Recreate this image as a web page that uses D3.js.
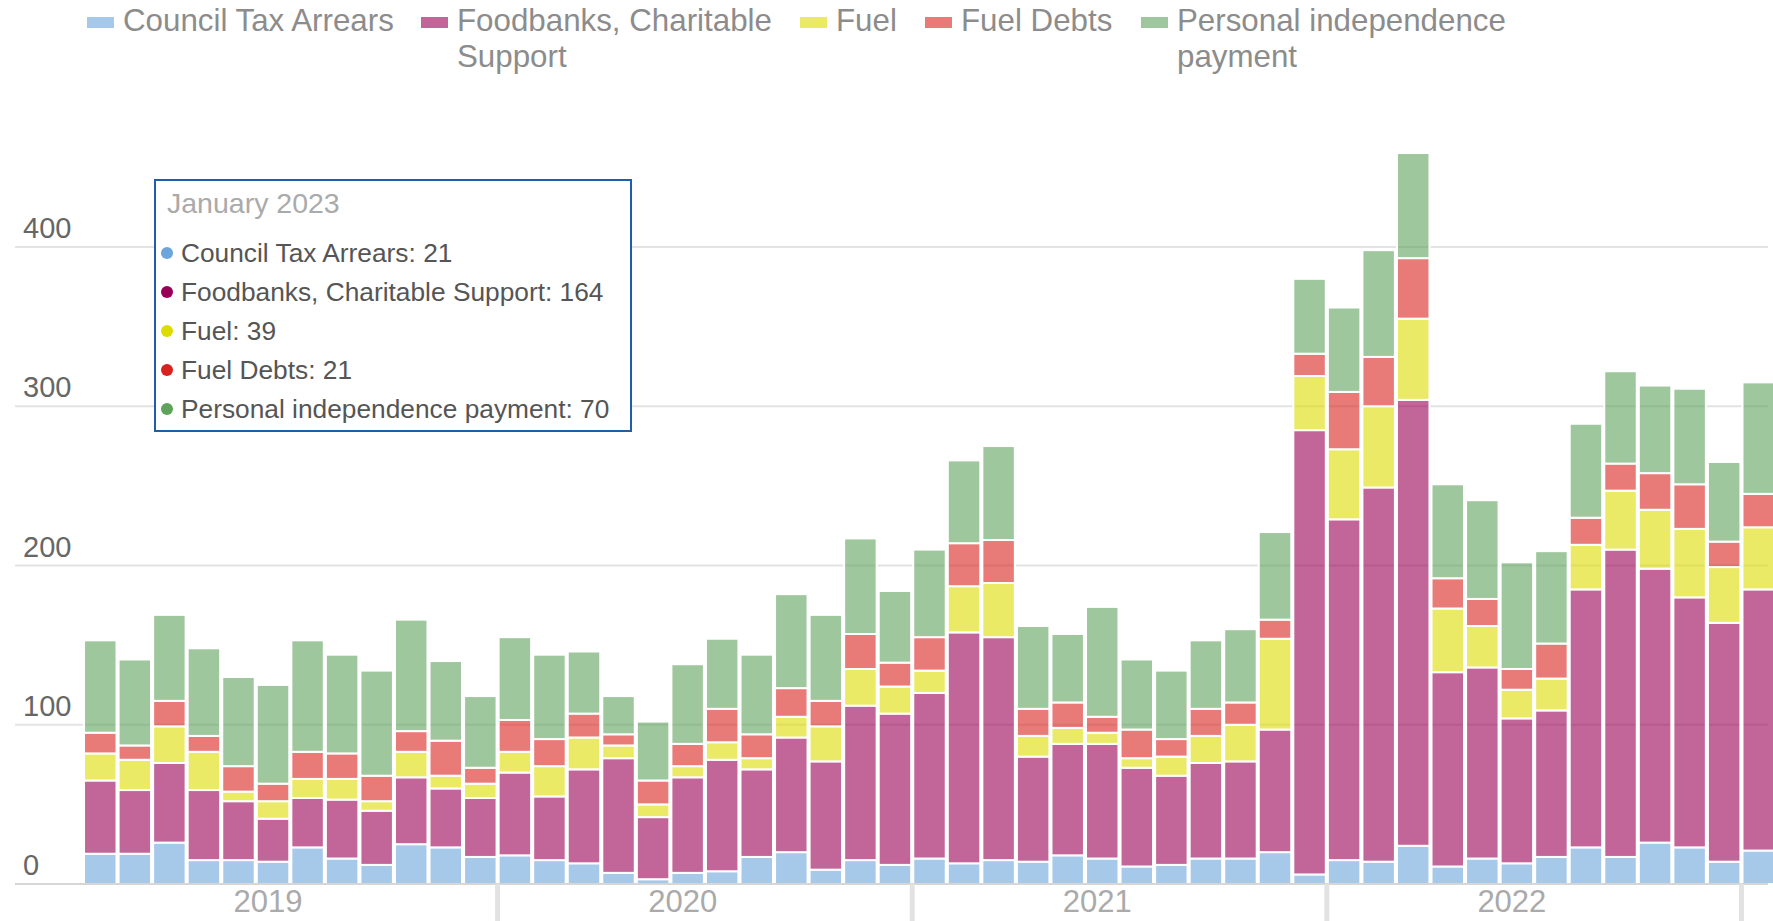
<!DOCTYPE html>
<html>
<head>
<meta charset="utf-8">
<script src="https://cdn.jsdelivr.net/npm/d3@7"></script>
<style>
  html, body { margin: 0; padding: 0; background: #fff; }
  svg { display: block; font-family: "Liberation Sans", Arial, sans-serif; }
</style>
</head>
<body>
<div id="chart"></div>
<script>
var width = 1773;
var height = 921;

// Months Jan 2019 .. Jan 2023
var years = ["2019", "2020", "2021", "2022"];
var months = [];
years.concat(["2023"]).forEach(function(y) {
    for (var m = 1; m <= 12; m++) {
        if (y === "2023" && m > 1) break;
        months.push(y + "-" + (m < 10 ? "0" + m : m));
    }
});
var monthNames = ["January", "February", "March", "April", "May", "June", "July",
    "August", "September", "October", "November", "December"];

var seriesNames = ["Council Tax Arrears", "Foodbanks, Charitable Support", "Fuel", "Fuel Debts", "Personal independence payment"];
var seriesColors = ["#6ba5dc", "#990055", "#dcdc00", "#d9211e", "#5fa25c"];

var councilTax = [19, 19, 26, 15, 15, 14, 23, 16, 12, 25, 23, 17,
    18, 15, 13, 7, 3, 7, 8, 17, 20, 9, 15, 12,
    16, 13, 15, 14, 18, 16, 11, 12, 16, 16, 20, 6,
    15, 14, 24, 11, 16, 13, 17, 23, 17, 26, 23, 14,
    21];
var foodbanks = [46, 40, 50, 44, 37, 27, 31, 37, 34, 42, 37, 37,
    52, 40, 59, 72, 39, 60, 70, 55, 72, 68, 97, 95,
    104, 145, 140, 66, 70, 72, 62, 56, 60, 61, 77, 279,
    214, 235, 280, 122, 120, 91, 92, 162, 193, 172, 157, 150,
    164];
var fuel = [17, 19, 23, 24, 6, 11, 12, 13, 6, 16, 8, 9,
    13, 19, 20, 8, 8, 7, 11, 7, 13, 22, 23, 17,
    14, 29, 34, 13, 10, 7, 6, 12, 17, 23, 57, 34,
    44, 51, 51, 40, 26, 18, 20, 28, 37, 37, 43, 35,
    39];
var fuelDebts = [13, 9, 16, 10, 16, 11, 17, 16, 16, 13, 22, 10,
    20, 17, 15, 7, 15, 14, 21, 15, 18, 16, 22, 15,
    21, 27, 27, 17, 16, 10, 18, 11, 17, 14, 12, 14,
    36, 31, 38, 19, 17, 13, 22, 17, 17, 23, 28, 16,
    21];
var pip = [58, 54, 54, 55, 56, 62, 70, 62, 66, 70, 50, 45,
    52, 53, 39, 24, 37, 50, 44, 50, 59, 54, 60, 45,
    55, 52, 59, 52, 43, 69, 44, 43, 43, 46, 55, 47,
    53, 67, 66, 59, 62, 67, 58, 59, 58, 55, 60, 50,
    70];

var yTicks = [0, 100, 200, 300, 400];

// legend layout (label lines as wrapped on the page)
var legendLines = [["Council Tax Arrears"], ["Foodbanks, Charitable", "Support"], ["Fuel"], ["Fuel Debts"], ["Personal independence", "payment"]];
var legendX = [87, 421, 800, 925, 1141];

// Build table for the stack
var seriesValues = [councilTax, foodbanks, fuel, fuelDebts, pip];
var table = months.map(function(m, i) {
    var row = { month: m };
    seriesNames.forEach(function(s, k) { row[s] = seriesValues[k][i]; });
    return row;
});
var stacked = d3.stack().keys(seriesNames)(table);

// Scales
var x = d3.scaleBand()
    .domain(months)
    .range([83, 1776])
    .paddingInner(0.06)
    .paddingOuter(0.03);

var y = d3.scaleLinear()
    .domain([0, 400])
    .range([884, 247]);

var svg = d3.select("#chart")
    .append("svg")
    .attr("width", width)
    .attr("height", height);

// Gridlines
svg.append("g")
    .selectAll("line")
    .data(yTicks.slice(1))
    .enter()
    .append("line")
    .attr("x1", 15)
    .attr("x2", 1768)
    .attr("y1", function(d) { return y(d); })
    .attr("y2", function(d) { return y(d); })
    .attr("stroke", "#e3e3e3")
    .attr("stroke-width", 2);

// Y labels
svg.append("g")
    .selectAll("text")
    .data(yTicks)
    .enter()
    .append("text")
    .attr("x", 23)
    .attr("y", function(d) { return y(d) - 9; })
    .attr("font-size", 29)
    .attr("fill", "#666")
    .text(function(d) { return d; });

// Bars
svg.append("g")
    .selectAll("g")
    .data(stacked)
    .enter()
    .append("g")
    .attr("fill", function(d, i) { return seriesColors[i]; })
    .attr("fill-opacity", 0.6)
    .selectAll("rect")
    .data(function(d) { return d; })
    .enter()
    .append("rect")
    .attr("x", function(d) { return x(d.data.month); })
    .attr("width", x.bandwidth())
    .attr("y", function(d) { return y(d[1]); })
    .attr("height", function(d) { return y(d[0]) - y(d[1]); })
    .attr("stroke", "#fff")
    .attr("stroke-width", 2);

// X baseline
svg.append("line")
    .attr("x1", 15)
    .attr("x2", 1768)
    .attr("y1", y(0))
    .attr("y2", y(0))
    .attr("stroke", "#d6d6d6")
    .attr("stroke-width", 2);

// Year ticks, at the start of each following year
svg.append("g")
    .selectAll("line")
    .data(["2020-01", "2021-01", "2022-01", "2023-01"])
    .enter()
    .append("line")
    .attr("x1", function(d) { return x(d) - x.step() * x.paddingInner() / 2; })
    .attr("x2", function(d) { return x(d) - x.step() * x.paddingInner() / 2; })
    .attr("y1", y(0))
    .attr("y2", height)
    .attr("stroke", "#e2e2e2")
    .attr("stroke-width", 5);

// Year labels
svg.append("g")
    .selectAll("text")
    .data(years)
    .enter()
    .append("text")
    .attr("x", function(d) { return x(d + "-06") + x.bandwidth() / 2 - 5; })
    .attr("y", 912)
    .attr("text-anchor", "middle")
    .attr("font-size", 31)
    .attr("fill", "#aaa")
    .text(function(d) { return d; });

// Legend
var legend = svg.append("g")
    .selectAll("g")
    .data(seriesNames)
    .enter()
    .append("g")
    .attr("transform", function(d, i) { return "translate(" + legendX[i] + ",0)"; });

legend.append("rect")
    .attr("x", 0)
    .attr("y", 17)
    .attr("width", 27)
    .attr("height", 11)
    .attr("fill", function(d, i) { return seriesColors[i]; })
    .attr("fill-opacity", 0.6);

legend.append("text")
    .attr("font-size", 31.3)
    .attr("fill", "#8c8c8c")
    .selectAll("tspan")
    .data(function(d, i) { return legendLines[i]; })
    .enter()
    .append("tspan")
    .attr("x", 36)
    .attr("y", function(d, j) { return 31 + j * 36; })
    .text(function(d) { return d; });

// Tooltip for the last month
var last = months.length - 1;
var lastParts = months[last].split("-");
var tip = svg.append("g").attr("transform", "translate(155,180)");

tip.append("rect")
    .attr("width", 476)
    .attr("height", 251)
    .attr("fill", "#fff")
    .attr("stroke", "#1f5fa8")
    .attr("stroke-width", 2);

tip.append("text")
    .attr("x", 12)
    .attr("y", 33)
    .attr("font-size", 28.5)
    .attr("fill", "#aaa")
    .text(monthNames[+lastParts[1] - 1] + " " + lastParts[0]);

var tipRows = tip.selectAll("g.row")
    .data(seriesNames)
    .enter()
    .append("g")
    .attr("class", "row")
    .attr("transform", function(d, i) { return "translate(0," + (73 + i * 39) + ")"; });

tipRows.append("circle")
    .attr("cx", 12)
    .attr("cy", 0)
    .attr("r", 6)
    .attr("fill", function(d, i) { return seriesColors[i]; });

tipRows.append("text")
    .attr("x", 26)
    .attr("y", 9)
    .attr("font-size", 26.3)
    .attr("fill", "#555")
    .text(function(d, i) { return d + ": " + seriesValues[i][last]; });
</script>
</body>
</html>
